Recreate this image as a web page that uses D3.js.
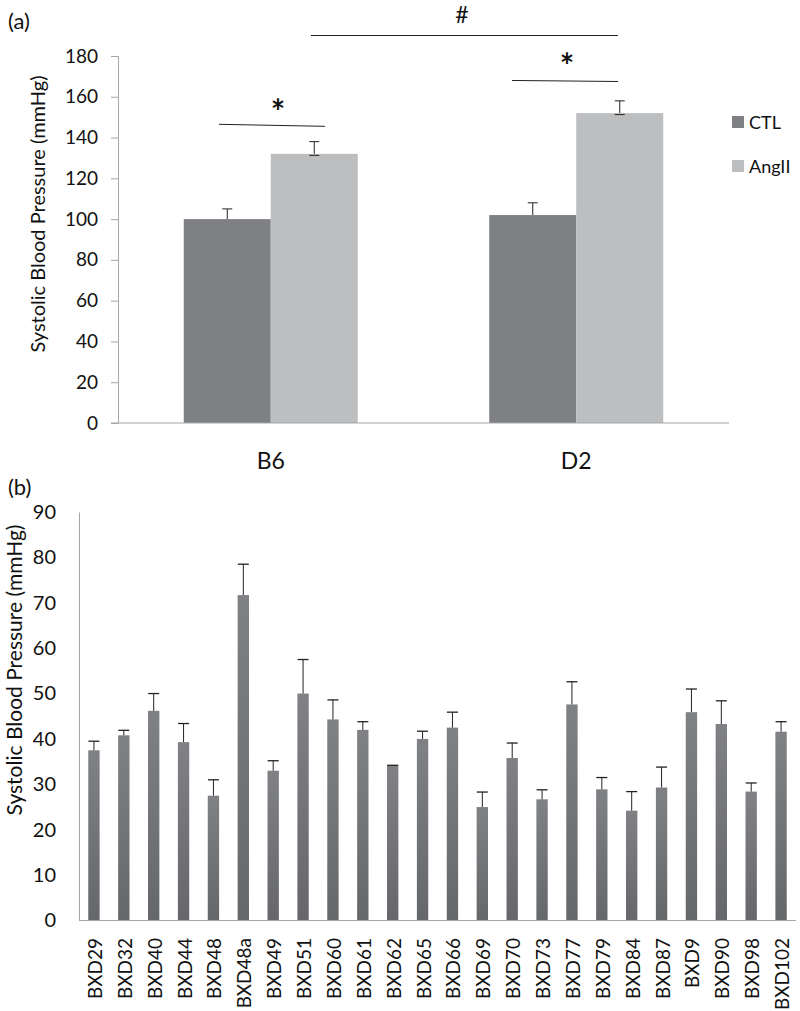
<!DOCTYPE html>
<html>
<head>
<meta charset="utf-8">
<script src="https://cdn.jsdelivr.net/npm/d3@7"></script>
<style>
  body { margin: 0; background: #fff; }
  svg text { font-family: Lato, "Open Sans", sans-serif; fill: #111; }
</style>
</head>
<body>
<script>
// ---- data: panel (a)
const strains = ["B6", "D2"];
const groups = ["CTL", "AngII"];
const ctlMean = [100, 102];
const ctlErr = [5, 6];
const angMean = [132, 152];
const angErr = [6, 6];
const aTicks = [0, 20, 40, 60, 80, 100, 120, 140, 160, 180];

// ---- data: panel (b)
const bxdStrains = ["BXD29", "BXD32", "BXD40", "BXD44", "BXD48", "BXD48a", "BXD49", "BXD51",
  "BXD60", "BXD61", "BXD62", "BXD65", "BXD66", "BXD69", "BXD70", "BXD73", "BXD77", "BXD79",
  "BXD84", "BXD87", "BXD9", "BXD90", "BXD98", "BXD102"];
const bxdMean = [37.5, 40.8, 46.2, 39.3, 27.5, 71.7, 33.0, 50.0, 44.3, 42.0, 34.2, 40.0, 42.5,
  25.0, 35.8, 26.7, 47.6, 28.9, 24.2, 29.3, 45.9, 43.3, 28.4, 41.6];
const bxdErr = [2.0, 1.1, 3.8, 4.1, 3.5, 6.8, 2.2, 7.5, 4.3, 1.8, 0, 1.7, 3.4,
  3.3, 3.3, 2.1, 5.0, 2.6, 4.2, 4.5, 5.1, 5.1, 1.9, 2.2];
const bTicks = [0, 10, 20, 30, 40, 50, 60, 70, 80, 90];

const colors = { CTL: "#7f8083", AngII: "#bdbec0" };
const axisColor = "#a6a6a6";

const svg = d3.select("body").append("svg")
  .attr("width", 800).attr("height", 1011);

const defs = svg.append("defs");
const grad = defs.append("linearGradient").attr("id", "barGrad")
  .attr("x1", 0).attr("y1", 0).attr("x2", 0).attr("y2", 1);
grad.append("stop").attr("offset", "0%").attr("stop-color", "#808185");
grad.append("stop").attr("offset", "100%").attr("stop-color", "#66676a");

/////////////////////////
// Panel (a)
const ma = { left: 118, right: 729, top: 56, bottom: 423 };
const xa = d3.scaleBand().domain(strains).range([ma.left, ma.right]);
const xaInner = d3.scaleBand().domain(groups).range([0, 174]);
const ya = d3.scaleLinear().domain([0, 180]).range([ma.bottom, ma.top]);

const dataA = strains.flatMap((s, i) => [
  { strain: s, group: "CTL", mean: ctlMean[i], err: ctlErr[i] },
  { strain: s, group: "AngII", mean: angMean[i], err: angErr[i] }
]);

const ga = svg.append("g");

// y axis
const yAxisA = ga.append("g")
  .attr("transform", `translate(${ma.left},0)`)
  .call(d3.axisLeft(ya).tickValues(aTicks).tickSize(7).tickPadding(13));
yAxisA.select(".domain").attr("stroke", axisColor);
yAxisA.selectAll(".tick line").attr("stroke", axisColor);
yAxisA.selectAll(".tick text").attr("font-size", 19).style("fill", "#111");

const barX = d => xa(d.strain) + (xa.bandwidth() - 174) / 2 + xaInner(d.group);

ga.selectAll("rect.bar").data(dataA).join("rect")
  .attr("class", "bar")
  .attr("x", barX)
  .attr("width", xaInner.bandwidth())
  .attr("y", d => ya(d.mean))
  .attr("height", d => ya(0) - ya(d.mean))
  .attr("fill", d => colors[d.group]);

// x axis line
ga.append("line")
  .attr("x1", ma.left - 7).attr("x2", ma.right)
  .attr("y1", ya(0)).attr("y2", ya(0))
  .attr("stroke", axisColor).attr("stroke-width", 1.2);

ga.selectAll("text.xlab").data(strains).join("text")
  .attr("class", "xlab")
  .attr("x", d => xa(d) + xa.bandwidth() / 2)
  .attr("y", 469)
  .attr("text-anchor", "middle")
  .attr("font-size", 23)
  .text(d => d);

// error bars (a)
const errA = ga.selectAll("g.err").data(dataA).join("g").attr("class", "err");
errA.append("line")
  .attr("x1", d => barX(d) + xaInner.bandwidth() / 2)
  .attr("x2", d => barX(d) + xaInner.bandwidth() / 2)
  .attr("y1", d => ya(d.mean)).attr("y2", d => ya(d.mean + d.err))
  .attr("stroke", "#222").attr("stroke-width", 1);
errA.append("line")
  .attr("x1", d => barX(d) + xaInner.bandwidth() / 2 - 5)
  .attr("x2", d => barX(d) + xaInner.bandwidth() / 2 + 5)
  .attr("y1", d => ya(d.mean + d.err)).attr("y2", d => ya(d.mean + d.err))
  .attr("stroke", "#222").attr("stroke-width", 1);
errA.filter(d => d.group === "AngII").append("line")
  .attr("x1", d => barX(d) + xaInner.bandwidth() / 2 - 5)
  .attr("x2", d => barX(d) + xaInner.bandwidth() / 2 + 5)
  .attr("y1", d => ya(d.mean) + 1.5).attr("y2", d => ya(d.mean) + 1.5)
  .attr("stroke", "#222").attr("stroke-width", 1);

// significance marks
const sig = [
  { x1: 219, x2: 325, y: ya(145.5), ys: ya(146.5), label: "*", lx: 278, ly: 124 },
  { x1: 512, x2: 618, y: ya(167.5), ys: ya(168), label: "*", lx: 567, ly: 78 }
];
sig.forEach(s => {
  ga.append("line").attr("x1", s.x1).attr("x2", s.x2).attr("y1", s.ys).attr("y2", s.y)
    .attr("stroke", "#222").attr("stroke-width", 1);
  ga.append("text").attr("x", s.lx).attr("y", s.ly)
    .attr("text-anchor", "middle").attr("font-size", 34).attr("font-weight", "bold")
    .text(s.label);
});
ga.append("line").attr("x1", 311).attr("x2", 618).attr("y1", 35.5).attr("y2", 35.5)
  .attr("stroke", "#222").attr("stroke-width", 1);
ga.append("text").attr("x", 462).attr("y", 23).attr("text-anchor", "middle")
  .attr("font-size", 23).text("#");

// legend
const leg = ga.selectAll("g.leg").data(groups).join("g").attr("class", "leg")
  .attr("transform", (d, i) => `translate(732,${116 + i * 44})`);
leg.append("rect").attr("width", 12).attr("height", 12).attr("fill", d => colors[d]);
leg.append("text").attr("x", 17).attr("y", 13).attr("font-size", 18).text(d => d);

// labels
ga.append("text").attr("x", 8).attr("y", 29).attr("font-size", 22).text("(a)");
ga.append("text")
  .attr("transform", `translate(45,214) rotate(-90)`)
  .attr("text-anchor", "middle").attr("font-size", 20)
  .text("Systolic Blood Pressure (mmHg)");

/////////////////////////
// Panel (b)
const mb = { left: 79, right: 796, top: 512, bottom: 920.5 };
const xb = d3.scaleBand().domain(bxdStrains).range([mb.left, mb.right]).paddingInner(0.62).paddingOuter(0.31);
const yb = d3.scaleLinear().domain([0, 90]).range([mb.bottom, mb.top]);

const gb = svg.append("g");

const yAxisB = gb.append("g")
  .attr("transform", `translate(${mb.left},0)`)
  .call(d3.axisLeft(yb).tickValues(bTicks).tickSize(0).tickPadding(23));
yAxisB.select(".domain").attr("stroke", axisColor);
yAxisB.selectAll(".tick text").attr("font-size", 20).style("fill", "#111");

gb.selectAll("rect.bar").data(bxdStrains).join("rect")
  .attr("class", "bar")
  .attr("x", d => xb(d))
  .attr("width", xb.bandwidth())
  .attr("y", (d, i) => yb(bxdMean[i]))
  .attr("height", (d, i) => yb(0) - yb(bxdMean[i]))
  .attr("fill", "url(#barGrad)");

gb.append("line")
  .attr("x1", mb.left).attr("x2", mb.right)
  .attr("y1", yb(0)).attr("y2", yb(0))
  .attr("stroke", axisColor).attr("stroke-width", 1.2);

// error bars (b)
const errB = gb.selectAll("g.err").data(bxdStrains).join("g").attr("class", "err");
const cx = d => xb(d) + xb.bandwidth() / 2;
errB.append("line")
  .attr("x1", cx).attr("x2", cx)
  .attr("y1", (d, i) => yb(bxdMean[i])).attr("y2", (d, i) => yb(bxdMean[i] + bxdErr[i]))
  .attr("stroke", "#222").attr("stroke-width", 1);
errB.append("line")
  .attr("x1", d => cx(d) - 5.5).attr("x2", d => cx(d) + 5.5)
  .attr("y1", (d, i) => yb(bxdMean[i] + bxdErr[i])).attr("y2", (d, i) => yb(bxdMean[i] + bxdErr[i]))
  .attr("stroke", "#222").attr("stroke-width", 1.3);

// rotated category labels
gb.selectAll("text.xlab").data(bxdStrains).join("text")
  .attr("class", "xlab")
  .attr("transform", d => `translate(${cx(d) + 8},938) rotate(-90)`)
  .attr("text-anchor", "end")
  .attr("font-size", 19)
  .text(d => d);

gb.append("text").attr("x", 8).attr("y", 495).attr("font-size", 22).text("(b)");
gb.append("text")
  .attr("transform", `translate(22,670) rotate(-90)`)
  .attr("text-anchor", "middle").attr("font-size", 21)
  .text("Systolic Blood Pressure (mmHg)");
</script>
</body>
</html>
